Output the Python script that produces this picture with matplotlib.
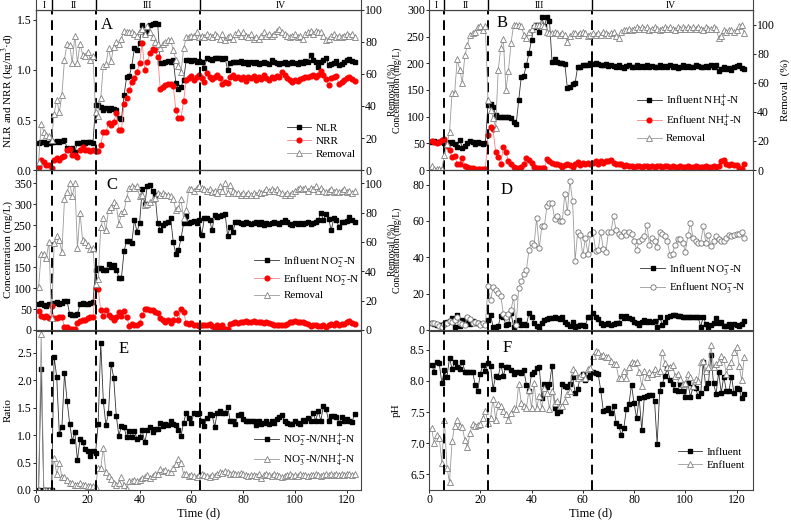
import numpy as np
from matplotlib import pyplot as plt

plt.rcParams['font.family'] = ['Liberation Serif', 'DejaVu Serif']
plt.rcParams['mathtext.fontset'] = 'stix'

DAYS = np.arange(1, 124)
PHASES = [6, 23, 63.5]
PHASE_NAMES = ['I', 'II', 'III', 'IV']
PHASE_MID = [3, 14.5, 43, 94.5]

# panel A
nlr = [0.27, 0.28, 0.28, 0.26, 0.27, 0.28, 0.28, 0.29, 0.28, 0.29,
       0.30, 0.22, 0.20, 0.22, 0.18, 0.27, 0.27, 0.28, 0.27, 0.28,
       0.28, 0.27, 0.65, 0.65, 0.63, 0.60, 0.62, 0.60, 0.62, 0.61,
       0.60, 0.52, 0.51, 0.75, 0.93, 0.94, 1.04, 1.22, 1.20, 1.27,
       1.45, 1.36, 1.40, 1.45, 1.46, 1.47, 1.46, 1.07, 1.07, 1.08,
       1.09, 1.08, 1.10, 0.87, 0.81, 0.83, 0.90, 1.10, 1.10, 1.09,
       1.10, 1.08, 1.09, 1.08, 1.02, 1.12, 1.11, 1.10, 1.12, 1.12,
       1.12, 1.11, 1.12, 1.00, 1.07, 1.08, 1.08, 1.08, 1.09, 1.07,
       1.08, 1.06, 1.08, 1.07, 1.08, 1.06, 1.07, 1.08, 1.07, 1.06,
       1.10, 1.08, 1.07, 1.06, 1.07, 1.08, 1.06, 1.07, 1.08, 1.07,
       1.06, 1.08, 1.07, 1.09, 1.08, 1.15, 1.10, 1.08, 1.03, 1.08,
       1.10, 1.12, 1.05, 1.06, 1.07, 1.09, 1.05, 1.06, 1.08, 1.10,
       1.11, 1.09, 1.08]
nrr = [0.03, 0.10, 0.08, 0.05, 0.05, 0.02, 0.10, 0.12, 0.10, 0.13,
       0.14, 0.20, 0.21, 0.15, 0.15, 0.13, 0.20, 0.23, 0.20, 0.20,
       0.19, 0.20, 0.19, 0.19, 0.25, 0.38, 0.38, 0.47, 0.45, 0.48,
       0.57, 0.40, 0.40, 0.66, 0.72, 0.80, 0.88, 0.92, 0.98, 1.07,
       1.27, 1.00, 1.08, 1.17, 1.21, 1.20, 1.13, 0.81, 0.83, 0.85,
       0.86, 0.86, 0.84, 0.60, 0.52, 0.52, 0.69, 0.90, 0.92, 0.94,
       0.90, 0.93, 0.95, 0.92, 0.88, 0.97, 0.93, 0.91, 0.93, 0.95,
       0.92, 0.86, 0.88, 0.87, 0.93, 0.95, 0.92, 0.93, 0.91, 0.93,
       0.89, 0.93, 0.92, 0.94, 0.90, 0.93, 0.91, 0.95, 0.92, 0.90,
       0.93, 0.92, 0.94, 0.93, 0.98, 0.95, 0.92, 0.90, 0.88, 0.90,
       0.89, 0.91, 0.92, 0.93, 0.93, 0.94, 0.95, 0.93, 0.95, 0.99,
       0.95, 0.91, 0.85, 0.92, 0.93, 0.94, 0.86, 0.88, 0.90, 0.92,
       0.93, 0.91, 0.89]
removal_a = [5, 29, 24, 22, 21, 19, 35, 44, 36, 47,
             69, 79, 78, 67, 84, 67, 79, 72, 71, 74,
             69, 71, 36, 34, 45, 65, 66, 76, 68, 77,
             80, 79, 82, 87, 86, 86, 86, 85, 84, 87,
             88, 85, 90, 86, 83, 80, 79, 76, 79, 80,
             81, 81, 75, 69, 65, 61, 76, 83, 83, 84,
             84, 86, 83, 84, 83, 85, 84, 83, 85, 84,
             82, 85, 81, 83, 84, 82, 85, 86, 84, 86,
             84, 83, 85, 82, 83, 82, 84, 86, 84, 85,
             84, 85, 87, 88, 86, 85, 84, 83, 84, 85,
             83, 84, 82, 85, 86, 87, 85, 87, 86, 86,
             84, 81, 82, 84, 85, 83, 84, 83, 84, 85,
             84, 85, 83]

# panel B
nh4_in = [53, 54, 52, 53, 55, 50, 52, 50, 53, 48,
          44, 56, 42, 45, 51, 55, 52, 49, 52, 50,
          48, 50, 122, 123, 119, 103, 100, 99, 100, 99,
          99, 97, 90, 86, 131, 175, 177, 197, 219, 244,
          269, 272, 259, 286, 270, 286, 280, 203, 209, 202,
          200, 200, 198, 153, 156, 161, 163, 194, 194, 197,
          197, 197, 200, 198, 200, 199, 197, 196, 198, 195,
          197, 195, 193, 196, 194, 192, 195, 196, 193, 194,
          196, 193, 195, 194, 196, 193, 195, 194, 193, 196,
          194, 195, 193, 196, 194, 195, 192, 194, 196, 193,
          195, 194, 193, 196, 195, 193, 194, 195, 194, 196,
          193, 197, 185, 190, 193, 189, 192, 188, 193, 195,
          197, 192, 190]
nh4_out = [54, 53, 51, 52, 57, 58, 45, 37, 25, 26,
           12, 12, 22, 8, 5, 4, 3, 2, 2, 2,
           1, 1, 66, 80, 76, 34, 25, 12, 44, 34,
           16, 11, 6, 3, 4, 6, 12, 22, 19, 14,
           6, 4, 3, 3, 3, 20, 16, 14, 12, 11,
           9, 6, 9, 12, 9, 6, 12, 15, 10, 13,
           12, 14, 11, 14, 17, 12, 16, 14, 17, 16,
           19, 14, 11, 12, 11, 8, 9, 7, 8, 6,
           7, 8, 6, 7, 8, 6, 7, 6, 8, 7,
           6, 7, 8, 6, 7, 5, 6, 7, 5, 6,
           7, 6, 5, 7, 6, 5, 6, 7, 6, 5,
           7, 6, 8, 16, 19, 12, 10, 11, 9, 10,
           3, 2, 11]
removal_b = [3, 1, 1, 1, 1, 10, 18, 26, 53, 53,
             76, 69, 60, 79, 86, 93, 94, 95, 98, 99,
             96, 99, 48, 41, 36, 29, 69, 84, 90, 55,
             68, 87, 100, 100, 100, 99, 93, 91, 95, 97,
             100, 100, 100, 100, 99, 95, 94, 94, 95, 94,
             93, 94, 93, 88, 92, 94, 94, 93, 94, 95,
             94, 92, 93, 94, 93, 94, 93, 95, 94, 93,
             94, 95, 92, 91, 95, 96, 96, 97, 96, 97,
             98, 97, 98, 97, 98, 96, 97, 98, 97, 96,
             97, 98, 97, 98, 97, 96, 98, 97, 98, 97,
             98, 97, 98, 97, 98, 97, 96, 98, 97, 97,
             98, 97, 91, 92, 96, 95, 96, 96, 95, 96,
             99, 100, 94]

# panel C
no2_in = [63, 65, 60, 57, 61, 63, 65, 67, 63, 65,
          70, 69, 38, 36, 36, 38, 61, 65, 62, 63,
          65, 67, 144, 147, 147, 144, 143, 156, 149, 155,
          144, 125, 125, 187, 213, 213, 208, 262, 234, 254,
          335, 300, 343, 345, 332, 321, 254, 238, 250, 254,
          258, 266, 210, 181, 190, 218, 254, 271, 254, 258,
          260, 254, 262, 226, 266, 266, 262, 238, 274, 270,
          272, 274, 277, 225, 246, 234, 256, 258, 255, 253,
          256, 254, 252, 255, 257, 253, 256, 250, 255, 252,
          254, 257, 255, 253, 256, 262, 258, 252, 250, 254,
          253, 255, 252, 254, 256, 253, 255, 258, 262, 279,
          262, 277, 264, 238, 266, 262, 245, 258, 256, 260,
          268, 262, 258]
no2_out = [46, 33, 32, 33, 28, 56, 28, 28, 32, 30,
           8, 6, 2, 2, 2, 16, 22, 25, 25, 28,
           32, 32, 99, 97, 48, 33, 48, 36, 32, 25,
           32, 44, 33, 46, 32, 10, 14, 12, 12, 16,
           36, 49, 49, 48, 48, 44, 40, 28, 24, 20,
           24, 17, 24, 41, 24, 49, 44, 16, 14, 17,
           13, 11, 10, 12, 13, 11, 14, 10, 3, 12,
           5, 13, 2, 3, 14, 16, 18, 17, 20, 18,
           22, 20, 19, 21, 18, 20, 19, 17, 18, 16,
           15, 13, 12, 11, 12, 13, 15, 18, 20, 21,
           19, 20, 18, 17, 14, 10, 12, 11, 9, 10,
           12, 8, 13, 14, 12, 16, 13, 15, 14, 19,
           22, 17, 14]
removal_c = [29, 52, 52, 49, 60, 8, 59, 64, 61, 53,
             89, 94, 100, 91, 100, 56, 80, 61, 60, 58,
             55, 56, 31, 35, 70, 76, 68, 82, 84, 87,
             85, 72, 80, 81, 90, 97, 98, 97, 98, 91,
             92, 85, 86, 87, 89, 90, 93, 92, 93, 92,
             92, 91, 89, 82, 83, 89, 76, 82, 96, 96,
             95, 97, 98, 97, 96, 95, 96, 94, 95, 93,
             98, 95, 100, 93, 99, 95, 93, 93, 92, 93,
             92, 93, 92, 93, 92, 94, 93, 94, 96, 95,
             96, 95, 96, 94, 93, 92, 93, 92, 93, 95,
             96, 97, 96, 97, 95, 97, 96, 98, 95, 97,
             95, 94, 95, 96, 94, 95, 94, 95, 96, 94,
             95, 93, 95]

# panel D
no3_in = [3.7, 3.5, 3.0, 2.6, 3.0, 3.5, 4.6, 4.8, 6.4, 1.8,
          8.5, 2.0, 5.5, 4.0, 6.4, 3.2, 5.0, 3.7, 4.0, 3.3,
          3.5, 3.2, 5.5, 8.3, 1.8, 1.8, 2.2, 7.7, 7.4, 2.8,
          3.3, 9.2, 1.8, 4.6, 5.5, 2.8, 3.3, 2.8, 9.2, 7.4,
          4.0, 2.2, 0.9, 3.7, 5.5, 6.0, 6.4, 6.4, 7.0, 6.4,
          6.0, 7.4, 4.6, 3.3, 2.2, 4.6, 1.8, 2.2, 3.0, 2.6,
          2.0, 7.4, 7.0, 9.6, 7.4, 6.0, 4.0, 2.8, 3.3, 4.0,
          2.8, 3.3, 4.0, 3.7, 7.7, 6.4, 7.7, 6.4, 6.0, 4.6,
          3.7, 2.8, 4.6, 5.5, 4.6, 4.8, 4.6, 5.0, 1.8, 7.4,
          2.8, 4.6, 7.4, 7.7, 8.0, 8.0, 7.7, 7.7, 7.4, 7.4,
          7.0, 7.4, 7.0, 7.4, 7.0, 1.8, 7.4, 3.3, 1.5, 2.8,
          3.7, 6.4, 3.7, 4.6, 2.2, 2.2, 3.3, 1.8, 3.3, 2.8,
          2.0, 3.5, 5.0]
no3_out = [3.7, 3.7, 3.3, 2.4, 1.8, 3.3, 3.7, 5.0, 4.6, 5.5,
           7.4, 3.7, 3.3, 2.8, 7.4, 5.9, 4.0, 4.4, 3.7, 2.8,
           3.7, 2.5, 24, 16.5, 23.5, 22, 20.6, 18.8, 9, 7.4,
           9, 11, 18, 3, 23, 26.7, 31, 33, 44, 48,
           47, 61.6, 45, 57, 57, 68, 70, 70, 61, 62.5,
           60, 60, 75, 65, 82, 71, 38, 54, 52, 41,
           50.5, 42, 53, 54, 43.6, 44, 54, 44.5, 43, 54,
           54, 62.5, 55, 53, 51.5, 54, 52, 54, 53, 49,
           44, 49, 50, 51.5, 58, 47, 50.5, 49, 45.6, 54,
           53, 51.5, 49, 41, 42, 47, 50, 50, 48, 43,
           52, 59, 50.5, 49, 48, 48, 57, 48, 52, 46,
           49, 51.5, 50, 49, 49, 50.5, 52, 51.5, 52, 53,
           53, 54, 50.5]

# panel E
ratio_no2 = [0, 2.2, 0, 0, 0, 0, 2.43, 2.06, 1.03, 1.14,
             2.13, 1.63, 1.21, 0.9, 1.05, 0.54, 0.93, 0.87, 0.74, 0.71,
             0.62, 0.71, 0.68, 1.2, 2.69, 1.62, 1.18, 1.41, 2.3, 2.05,
             1.35, 0.99, 1.17, 1.14, 0.96, 1.08, 0.96, 1.08, 0.93, 0.96,
             1.09, 0.87, 1.09, 1.14, 1.05, 1.12, 1.11, 1.23, 1.17, 1.2,
             1.19, 1.26, 1.2, 1.18, 1.09, 0.99, 1.23, 1.41, 1.32, 1.23,
             1.41, 1.38, 1.41, 1.26, 1.17, 1.31, 1.38, 1.37, 1.15, 1.41,
             1.44, 1.41, 1.41, 1.52, 1.26, 1.25, 1.21, 1.37, 1.38, 1.29,
             1.26, 1.25, 1.26, 1.25, 1.19, 1.26, 1.2, 1.23, 1.26, 1.2,
             1.25, 1.23, 1.29, 1.34, 1.37, 1.26, 1.23, 1.21, 1.2, 1.26,
             1.23, 1.2, 1.27, 1.25, 1.31, 1.25, 1.41, 1.26, 1.44, 1.26,
             1.54, 1.48, 1.26, 1.35, 1.35, 1.33, 1.23, 1.33, 1.26, 1.29,
             1.26, 1.24, 1.38]
ratio_no3 = [0, 2.84, 0, 0, 0, 0, 0.59, 0.29, 0.5, 0.23,
             0.23, 0.18, 0.13, 0.12, 0.09, 0.1, 0.13, 0.09, 0.09, 0.07,
             0.08, 0.07, 0.05, 0.41, 0.40, 0.77, 0.32, 0.26, 0.2, 0.13,
             0.09, 0.12, 0.23, 0.1, 0.01, 0.16, 0.16, 0.18, 0.17, 0.18,
             0.21, 0.23, 0.27, 0.21, 0.26, 0.29, 0.3, 0.38, 0.34, 0.36,
             0.32, 0.32, 0.41, 0.47, 0.56, 0.5, 0.29, 0.3, 0.26, 0.28,
             0.26, 0.24, 0.27, 0.3, 0.28, 0.26, 0.24, 0.27, 0.25, 0.3,
             0.33, 0.31, 0.35, 0.32, 0.3, 0.31, 0.29, 0.3, 0.31, 0.29,
             0.27, 0.25, 0.27, 0.28, 0.26, 0.3, 0.22, 0.27, 0.29, 0.28,
             0.26, 0.29, 0.28, 0.25, 0.23, 0.25, 0.27, 0.29, 0.26, 0.28,
             0.25, 0.3, 0.28, 0.27, 0.26, 0.28, 0.27, 0.29, 0.27, 0.26,
             0.28, 0.3, 0.27, 0.29, 0.28, 0.3, 0.28, 0.29, 0.27, 0.3,
             0.29, 0.28, 0.29]

# panel F
ph_in = [8.26, 8.15, 8.3, 8.28, 7.97, 8.17, 8.06, 8.37, 8.19, 8.3,
         8.22, 8.19, 8.31, 8.15, 8.14, 8.14, 8.15, 7.94, 7.84, 8.11,
         8.26, 8.16, 8.28, 8.24, 7.87, 8.08, 8.07, 8.26, 8.08, 8.23,
         8.22, 8.17, 8.11, 8.14, 8.14, 8.12, 8.17, 7.94, 7.84, 8.11,
         8.15, 8.2, 8.23, 7.73, 7.95, 7.9, 7.95, 8.24, 7.57, 7.48,
         7.52, 7.95, 7.92, 7.9, 7.95, 8.07, 7.81, 7.87, 8.06, 8.11,
         8.01, 8.06, 8.11, 8.15, 8.12, 8.11, 7.85, 7.52, 7.53, 7.56,
         7.48, 7.6, 7.33, 7.28, 7.14, 7.24, 7.55, 7.63, 7.94, 7.64,
         7.4, 7.73, 7.21, 7.74, 7.76, 7.78, 7.78, 7.67, 6.99, 7.84,
         7.95, 8.08, 8.2, 8.02, 7.95, 7.85, 7.84, 7.95, 7.84, 7.74,
         7.97, 7.74, 7.9, 7.88, 7.76, 7.8, 8.3, 7.88, 7.96, 8.42,
         7.96, 7.79, 8.14, 7.81, 8.07, 7.84, 7.84, 8.07, 7.8, 7.88,
         7.87, 7.72, 7.79]
ph_out = [7.24, 7.01, 7.13, 7.09, 6.69, 7.37, 6.61, 6.38, 7.03, 7.28,
          7.38, 7.28, 7.26, 7.05, 6.94, 7.17, 7.31, 7.28, 7.3, 7.31,
          7.41, 7.52, 7.33, 7.41, 7.71, 7.38, 7.63, 7.6, 7.52, 7.47,
          7.38, 7.48, 7.57, 7.55, 7.95, 7.65, 7.6, 7.57, 7.85, 7.57,
          7.96, 7.57, 7.76, 7.57, 7.88, 7.81, 7.55, 7.84, 7.65, 7.67,
          7.6, 7.59, 7.68, 7.79, 7.84, 8.19, 8.15, 8.05, 8.08, 8.11,
          8.04, 8.19, 8.2, 8.4, 8.48, 8.46, 8.4, 8.42, 8.38, 8.39,
          8.32, 8.27, 8.27, 8.04, 8.04, 8.16, 8.05, 8.22, 8.31, 8.28,
          8.31, 8.14, 7.92, 8.16, 8.07, 8.15, 8.11, 8.19, 8.12, 8.16,
          8.46, 8.28, 8.22, 8.22, 8.26, 8.08, 8.11, 8.03, 7.95, 7.96,
          8.11, 8.07, 7.92, 8.03, 8.0, 8.3, 8.32, 8.16, 8.22, 8.58,
          8.22, 8.27, 8.3, 8.4, 8.35, 8.11, 8.24, 8.31, 8.47, 8.54,
          8.24, 8.01, 8.38]

FS = 8.5
LAB = 8
GAP_LAB = 7
LINE_KW = dict(lw=0.6)
SQUARE = dict(marker='s', ms=3.2, color='#333333', mfc='black', mec='black')
CIRCLE_RED = dict(marker='o', ms=3.4, color='#ff8080', mfc='red', mec='red')
TRI = dict(marker='^', ms=3.8, color='#9a9a9a', mfc='white', mec='#808080', mew=0.6)
CIRCLE_OPEN = dict(marker='o', ms=3.8, color='#9a9a9a', mfc='white', mec='#707070', mew=0.6)


def style(ax, xmax):
    ax.set_xlim(0, xmax)
    ax.tick_params(labelsize=FS, direction='out', length=2, width=0.6, pad=1)
    for s in ax.spines.values():
        s.set_linewidth(0.8)
        s.set_color('#444444')


def phase_lines(ax):
    for x in PHASES:
        ax.axvline(x, color='black', ls=(0, (5, 3)), lw=1.4, zorder=5)


def legend(ax, handles, anchor):
    ax.legend(handles=handles, loc='center left', bbox_to_anchor=anchor,
              frameon=False, fontsize=8, handlelength=2.2,
              labelspacing=0.3, borderpad=0, handletextpad=0.4)


def strip(fig, rect, xmax):
    s = fig.add_axes(rect)
    s.set_xlim(0, xmax)
    s.set_ylim(0, 1)
    s.set_xticks([])
    s.set_yticks([])
    s.spines['top'].set_visible(False)
    for k in ('left', 'right', 'bottom'):
        s.spines[k].set_linewidth(0.8)
        s.spines[k].set_color('#444444')
    for x in PHASES:
        s.axvline(x, color='black', lw=1.0)
    for x, name in zip(PHASE_MID, PHASE_NAMES):
        s.text(x, 0.45, name, ha='center', va='center', fontsize=7)


def main():
    fig = plt.figure(figsize=(7.91, 5.25), dpi=100)

    lx, lw = 36 / 791, 325 / 791
    rx, rw = 429 / 791, 324 / 791
    h = 160 / 525
    tops = [1 - 10 / 525, 1 - 170 / 525, 1 - 330 / 525]
    xl, xr = 125.5, 126.4

    ax_a = fig.add_axes([lx, tops[0] - h, lw, h])
    ax_c = fig.add_axes([lx, tops[1] - h, lw, h])
    ax_e = fig.add_axes([lx, tops[2] - h, lw, 159 / 525])
    ax_b = fig.add_axes([rx, tops[0] - h, rw, h])
    ax_d = fig.add_axes([rx, tops[1] - h, rw, h])
    ax_f = fig.add_axes([rx, tops[2] - h, rw, 159 / 525])

    strip(fig, [lx, tops[0], lw, 10 / 525], xl)
    strip(fig, [rx, tops[0], rw, 10 / 525], xr)

    # A
    tw_a = ax_a.twinx()
    h1, = ax_a.plot(DAYS, nlr, label='NLR', **SQUARE, **LINE_KW)
    h2, = ax_a.plot(DAYS, nrr, label='NRR', **CIRCLE_RED, **LINE_KW)
    h3, = tw_a.plot(DAYS, removal_a, label='Removal', **TRI, **LINE_KW)
    ax_a.set_ylim(0, 1.6)
    ax_a.set_yticks([0, 0.5, 1.0, 1.5])
    ax_a.set_yticklabels(['0.0', '0.5', '1.0', '1.5'])
    tw_a.set_ylim(0, 100)
    tw_a.set_yticks(range(0, 101, 20))
    ax_a.set_ylabel('NLR and NRR (kg/m$^3$·d)', fontsize=LAB)
    tw_a.set_ylabel('Removal (%)', fontsize=GAP_LAB)
    legend(ax_a, [h1, h2, h3], (0.755, 0.18))

    # C
    tw_c = ax_c.twinx()
    h1, = ax_c.plot(DAYS, no2_in, label='Influent NO$_2^{-}$-N', **SQUARE, **LINE_KW)
    h2, = ax_c.plot(DAYS, no2_out, label='Enfluent NO$_2^{-}$-N', **CIRCLE_RED, **LINE_KW)
    h3, = tw_c.plot(DAYS, removal_c, label='Removal', **TRI, **LINE_KW)
    ax_c.set_ylim(0, 381)
    ax_c.set_yticks(range(0, 351, 50))
    tw_c.set_ylim(0, 109)
    tw_c.set_yticks(range(0, 101, 20))
    ax_c.set_ylabel('Concentration (mg/L)', fontsize=LAB)
    tw_c.set_ylabel('Removal (%)', fontsize=GAP_LAB)
    legend(ax_c, [h1, h2, h3], (0.655, 0.33))

    # E
    h1, = ax_e.plot(DAYS, ratio_no2, label='NO$_2^{-}$-N/NH$_4^{+}$-N', **SQUARE, **LINE_KW)
    h2, = ax_e.plot(DAYS, ratio_no3, label='NO$_3^{-}$-N/NH$_4^{+}$-N', **TRI, **LINE_KW)
    ax_e.set_ylim(0, 2.9)
    ax_e.set_yticks([0, 0.5, 1.0, 1.5, 2.0, 2.5])
    ax_e.set_yticklabels(['0.0', '0.5', '1.0', '1.5', '2.0', '2.5'])
    ax_e.set_ylabel('Ratio', fontsize=LAB)
    ax_e.set_xlabel('Time (d)', fontsize=9)
    legend(ax_e, [h1, h2], (0.655, 0.25))

    # B
    tw_b = ax_b.twinx()
    h1, = ax_b.plot(DAYS, nh4_in, label='Influent NH$_4^{+}$-N', **SQUARE, **LINE_KW)
    h2, = ax_b.plot(DAYS, nh4_out, label='Enfluent NH$_4^{+}$-N', **CIRCLE_RED, **LINE_KW)
    h3, = tw_b.plot(DAYS, removal_b, label='Removal', **TRI, **LINE_KW)
    ax_b.set_ylim(0, 300)
    ax_b.set_yticks(range(0, 301, 50))
    tw_b.set_ylim(0, 110)
    tw_b.set_yticks(range(0, 101, 20))
    ax_b.set_ylabel('Concentration (mg/L)', fontsize=GAP_LAB)
    tw_b.set_ylabel('Removal  (%)', fontsize=LAB)
    legend(ax_b, [h1, h2, h3], (0.625, 0.325))

    # D
    h1, = ax_d.plot(DAYS, no3_in, label='Influent NO$_3^{-}$-N', **SQUARE, **LINE_KW)
    h2, = ax_d.plot(DAYS, no3_out, label='Enfluent NO$_3^{-}$-N', **CIRCLE_OPEN, **LINE_KW)
    ax_d.set_ylim(0, 88)
    ax_d.set_yticks(range(0, 81, 20))
    ax_d.set_ylabel('Concentration (mg/L)', fontsize=GAP_LAB)
    legend(ax_d, [h1, h2], (0.635, 0.32))

    # F
    h1, = ax_f.plot(DAYS, ph_in, label='Influent', **SQUARE, **LINE_KW)
    h2, = ax_f.plot(DAYS, ph_out, label='Enfluent', **TRI, **LINE_KW)
    ax_f.set_ylim(6.25, 8.8)
    ax_f.set_yticks([6.5, 7.0, 7.5, 8.0, 8.5])
    ax_f.set_ylabel('pH', fontsize=LAB)
    ax_f.set_xlabel('Time (d)', fontsize=9)
    legend(ax_f, [h1, h2], (0.75, 0.2))

    for ax in (ax_a, ax_c, ax_e, tw_a, tw_c):
        style(ax, xl)
    for ax in (ax_b, ax_d, ax_f, tw_b):
        style(ax, xr)
    for ax in (ax_a, ax_c, ax_e, ax_b, ax_d, ax_f):
        phase_lines(ax)
        ax.set_xticks(range(0, 121, 20))
    for ax in (ax_a, ax_c, ax_b, ax_d):
        ax.tick_params(labelbottom=False)
    ax_e.xaxis.labelpad = 1
    ax_f.xaxis.labelpad = 1

    ax_a.yaxis.set_label_coords(-0.062, 0.5)
    ax_c.yaxis.set_label_coords(-0.072, 0.5)
    ax_e.yaxis.set_label_coords(-0.072, 0.5)
    ax_b.yaxis.set_label_coords(-0.083, 0.5)
    ax_d.yaxis.set_label_coords(-0.083, 0.5)
    ax_f.yaxis.set_label_coords(-0.088, 0.5)
    for ax in (tw_a, tw_c):
        ax.yaxis.set_label_coords(1.08, 0.5)
    tw_b.yaxis.set_label_coords(1.085, 0.5)

    letters = [(ax_a, 'A', 0.218, 0.906), (ax_b, 'B', 0.225, 0.92),
               (ax_c, 'C', 0.233, 0.906), (ax_d, 'D', 0.238, 0.875),
               (ax_e, 'E', 0.27, 0.887), (ax_f, 'F', 0.24, 0.893)]
    for ax, t, x, y in letters:
        ax.text(x, y, t, transform=ax.transAxes, fontsize=12,
                ha='center', va='center', zorder=6)

    fig.savefig('out.png', dpi=100)


if __name__ == '__main__':
    main()
